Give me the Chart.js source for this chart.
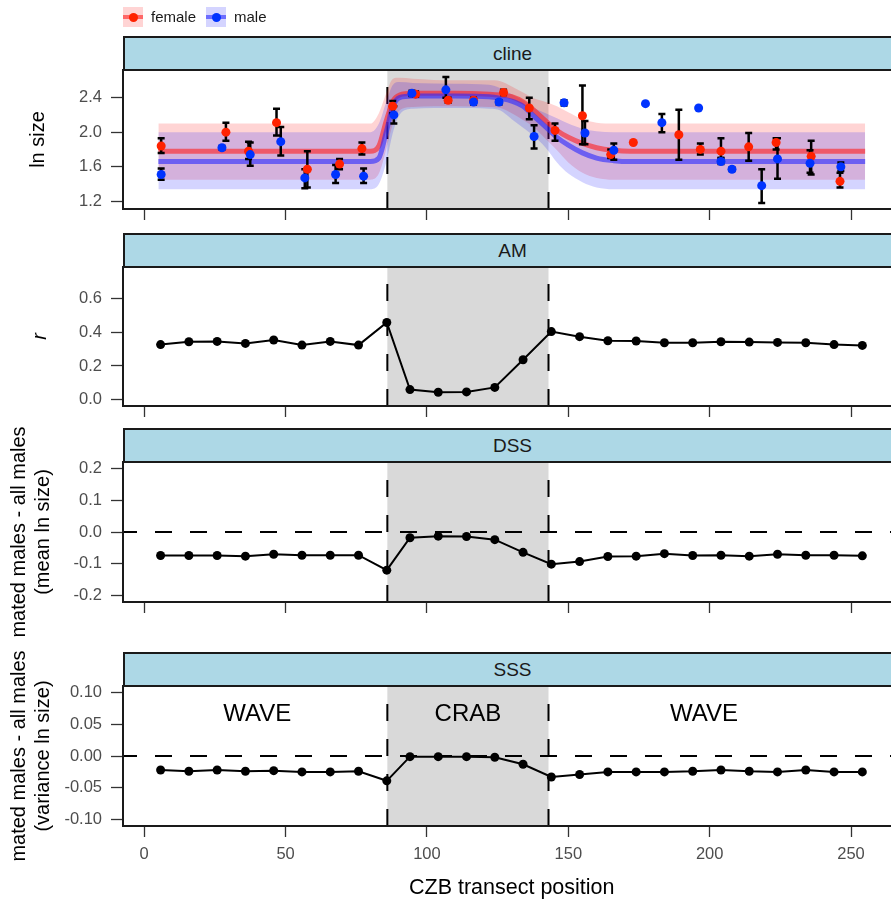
<!DOCTYPE html>
<html>
<head>
<meta charset="utf-8">
<script src="https://cdn.jsdelivr.net/npm/chart.js@4"></script>
<style>
  html, body { margin: 0; padding: 0; background: #fff; overflow: hidden; width: 891px; height: 902px; }
  canvas { position: absolute; left: 0; }
  .strip { position: absolute; left: 123px; width: 779px; height: 35px; box-sizing: border-box;
           background: #add8e6; border: 2px solid #1a1a1a; color: #1a1a1a;
           font: 19px "Liberation Sans", Arial, sans-serif;
           display: flex; align-items: center; justify-content: center; }
  .key { position: absolute; top: 7px; width: 20px; height: 20px; }
  .key i { position: absolute; left: 0; right: 0; top: 8px; height: 4px; }
  .key b { position: absolute; left: 5.5px; top: 5.5px; width: 9px; height: 9px; border-radius: 50%; }
  .lab { position: absolute; top: 8px; font: 15px "Liberation Sans", Arial, sans-serif; color: #1a1a1a; }
</style>
</head>
<body>
<canvas id="c1"></canvas>
<canvas id="c2"></canvas>
<canvas id="c3"></canvas>
<canvas id="c4"></canvas>

<div class="key" style="left:123px;background:rgba(255,0,0,0.17)"><i style="background:rgba(255,30,30,0.6)"></i><b style="background:#ff2200"></b></div>
<div class="lab" style="left:151px">female</div>
<div class="key" style="left:206px;background:rgba(0,0,255,0.17)"><i style="background:rgba(40,40,255,0.6)"></i><b style="background:#0033ff"></b></div>
<div class="lab" style="left:234px">male</div>

<script>
// ---- data ----
const xTicks = [0, 50, 100, 150, 200, 250];
const crabZone = [86, 143];
const zoneNames = ['WAVE', 'CRAB', 'WAVE'];
const zoneNameX = [40, 114.5, 198];
const zoneNameY = 0.066;

// cline panel: snail size per sex
const femaleX  = [6.0, 28.9, 36.9, 46.8, 57.7, 69.1, 77.0, 87.9, 96.0, 107.5, 116.5, 127.1, 136.2, 145.3, 155.0, 165.0, 173.0, 189.1, 196.7, 204.0, 213.8, 223.5, 235.9, 246.1];
const femaleY  = [1.84, 2.00, 1.78, 2.11, 1.57, 1.63, 1.81, 2.30, 2.44, 2.37, 2.37, 2.46, 2.28, 2.02, 2.19, 1.74, 1.88, 1.97, 1.80, 1.78, 1.83, 1.88, 1.72, 1.43];
const femaleLo = [1.76, 1.90, 1.69, 1.96, 1.36, 1.57, 1.74, 2.22, 2.41, 2.34, 2.34, 2.43, 2.15, 1.90, 1.86, 1.70, null, 1.68, 1.74, 1.70, 1.67, 1.80, 1.51, 1.36];
const femaleHi = [1.93, 2.11, 1.89, 2.27, 1.78, 1.69, 1.88, 2.36, 2.47, 2.40, 2.40, 2.49, 2.40, 2.10, 2.54, 1.80, null, 2.26, 1.87, 1.93, 1.99, 1.93, 1.90, 1.53];

const maleX  = [6.0, 27.5, 37.5, 48.3, 56.8, 67.7, 77.6, 88.3, 94.7, 106.7, 116.5, 125.5, 137.9, 148.5, 155.9, 166.1, 177.3, 183.1, 196.1, 204.0, 207.9, 218.4, 224.0, 235.5, 246.4];
const maleY  = [1.51, 1.82, 1.74, 1.89, 1.47, 1.51, 1.49, 2.20, 2.45, 2.49, 2.35, 2.35, 1.95, 2.34, 1.99, 1.79, 2.33, 2.11, 2.28, 1.66, 1.57, 1.38, 1.69, 1.64, 1.60];
const maleLo = [1.45, 1.80, 1.61, 1.73, 1.35, 1.41, 1.41, 2.10, 2.42, 2.40, 2.32, 2.32, 1.81, 2.31, 1.86, 1.68, null, 2.00, null, 1.63, 1.55, 1.18, 1.46, 1.53, 1.55];
const maleHi = [1.58, 1.84, 1.88, 2.06, 1.57, 1.62, 1.58, 2.30, 2.48, 2.64, 2.38, 2.37, 2.08, 2.37, 2.13, 1.87, null, 2.21, null, 1.70, 1.59, 1.57, 1.93, 1.79, 1.65];

// fitted clines
const clineX      = [5, 80, 83, 85.6, 88, 90.3, 95, 110, 122, 126, 130, 134, 138, 142, 146, 150, 155, 160, 166, 172, 255];
const femaleFit   = [1.78, 1.78, 1.84, 2.13, 2.36, 2.43, 2.45, 2.45, 2.44, 2.43, 2.41, 2.35, 2.25, 2.13, 2.02, 1.94, 1.87, 1.82, 1.79, 1.78, 1.78];
const femaleUpper = [2.10, 2.10, 2.22, 2.45, 2.62, 2.63, 2.62, 2.60, 2.60, 2.59, 2.53, 2.46, 2.39, 2.35, 2.30, 2.23, 2.15, 2.11, 2.10, 2.10, 2.10];
const femaleLower = [1.45, 1.45, 1.52, 1.80, 2.10, 2.25, 2.29, 2.30, 2.29, 2.28, 2.22, 2.14, 2.05, 1.92, 1.79, 1.65, 1.53, 1.47, 1.45, 1.45, 1.45];
const maleFit     = [1.66, 1.66, 1.70, 2.00, 2.30, 2.40, 2.42, 2.42, 2.41, 2.39, 2.36, 2.30, 2.18, 2.06, 1.94, 1.85, 1.76, 1.70, 1.67, 1.66, 1.66];
const maleUpper   = [2.00, 2.00, 2.10, 2.35, 2.55, 2.58, 2.57, 2.56, 2.55, 2.51, 2.44, 2.37, 2.28, 2.22, 2.16, 2.10, 2.04, 2.01, 2.00, 2.00, 2.00];
const maleLower   = [1.34, 1.34, 1.40, 1.65, 2.00, 2.20, 2.27, 2.28, 2.27, 2.25, 2.15, 2.05, 1.95, 1.82, 1.65, 1.52, 1.42, 1.36, 1.34, 1.34, 1.34];

// AM / DSS / SSS series
const sitePos = [5.8, 15.8, 25.8, 35.8, 45.8, 55.8, 65.8, 75.8, 85.8, 94, 104, 114, 124, 134, 144, 154, 164, 174, 184, 194, 204, 214, 224, 234, 244, 254];
const amR     = [0.327, 0.344, 0.346, 0.334, 0.354, 0.324, 0.346, 0.324, 0.458, 0.060, 0.044, 0.046, 0.073, 0.237, 0.404, 0.374, 0.350, 0.348, 0.338, 0.338, 0.344, 0.342, 0.340, 0.338, 0.327, 0.322];
const dssMean = [-0.074, -0.074, -0.074, -0.076, -0.070, -0.073, -0.073, -0.073, -0.120, -0.018, -0.013, -0.014, -0.024, -0.064, -0.101, -0.093, -0.077, -0.076, -0.068, -0.074, -0.073, -0.076, -0.070, -0.073, -0.073, -0.075];
const sssVar  = [-0.022, -0.024, -0.022, -0.024, -0.023, -0.025, -0.025, -0.024, -0.039, -0.001, -0.001, -0.001, -0.002, -0.013, -0.033, -0.029, -0.025, -0.025, -0.025, -0.024, -0.022, -0.024, -0.025, -0.022, -0.025, -0.025];

// ---- drawing ----
const FONT = '"Liberation Sans", Arial, sans-serif';
const PAD = 60;
const pts = (xs, ys) => xs.map((v, i) => ({x: v, y: ys[i]}));

function dashLine(ctx, x1, y1, x2, y2, offset) {
    ctx.setLineDash([17, 18]);
    ctx.lineDashOffset = offset || 0;
    ctx.beginPath();
    ctx.moveTo(x1, y1);
    ctx.lineTo(x2, y2);
    ctx.stroke();
}

function drawBars(ctx, x, y, xs, lo, hi) {
    xs.forEach((v, i) => {
        if (lo[i] == null) return;
        const px = x.getPixelForValue(v);
        const p1 = y.getPixelForValue(lo[i]);
        const p2 = y.getPixelForValue(hi[i]);
        ctx.beginPath();
        ctx.moveTo(px, p1); ctx.lineTo(px, p2);
        ctx.moveTo(px - 3.5, p1); ctx.lineTo(px + 3.5, p1);
        ctx.moveTo(px - 3.5, p2); ctx.lineTo(px + 3.5, p2);
        ctx.stroke();
    });
}

const decor = {
    id: 'decor',
    beforeDatasetsDraw(chart, args, opts) {
        const {ctx, chartArea: a, scales: {x, y}} = chart;
        const x0 = x.getPixelForValue(crabZone[0]);
        const x1 = x.getPixelForValue(crabZone[1]);
        ctx.save();
        ctx.fillStyle = '#d9d9d9';
        ctx.fillRect(x0, a.top, x1 - x0, a.bottom - a.top);
        ctx.strokeStyle = '#000';
        ctx.lineWidth = 2;
        if (opts.zeroLine) {
            const y0 = y.getPixelForValue(0);
            dashLine(ctx, a.left, y0, a.right, y0, 3);
        }
        crabZone.forEach(v => {
            const px = x.getPixelForValue(v);
            dashLine(ctx, px, a.bottom, px, a.top, 0);
        });
        if (opts.zoneLabels) {
            ctx.setLineDash([]);
            ctx.fillStyle = '#000';
            ctx.font = '24px ' + FONT;
            ctx.textAlign = 'center';
            ctx.textBaseline = 'middle';
            zoneNames.forEach((t, i) => {
                ctx.fillText(t, x.getPixelForValue(zoneNameX[i]), y.getPixelForValue(zoneNameY));
            });
        }
        ctx.restore();
    },
    beforeDatasetDraw(chart, args, opts) {
        if (!opts.errorBars || chart.data.datasets[args.index].label !== 'female') return;
        const {ctx, scales: {x, y}} = chart;
        ctx.save();
        ctx.strokeStyle = '#000';
        ctx.lineWidth = 2.5;
        drawBars(ctx, x, y, femaleX, femaleLo, femaleHi);
        drawBars(ctx, x, y, maleX, maleLo, maleHi);
        ctx.restore();
    },
    afterDraw(chart) {
        const {ctx, chartArea: a} = chart;
        ctx.save();
        ctx.strokeStyle = '#1a1a1a';
        ctx.lineWidth = 2;
        ctx.strokeRect(a.left, a.top, a.right - a.left, a.bottom - a.top);
        ctx.restore();
    }
};

function series(ys) {
    return [{
        label: 'series',
        data: pts(sitePos, ys),
        borderColor: '#000',
        borderWidth: 2,
        pointRadius: 4.5,
        pointBackgroundColor: '#000',
        pointBorderWidth: 0,
        tension: 0
    }];
}

function band(label, ys, fill, color, order) {
    return {
        label: label, data: pts(clineX, ys), borderWidth: 0, pointRadius: 0,
        fill: fill, backgroundColor: color, cubicInterpolationMode: 'monotone', order: order
    };
}

const clineSets = [
    band('female upper', femaleUpper, '+1', 'rgba(255,0,0,0.17)', 10),
    band('female lower', femaleLower, false, 'rgba(0,0,0,0)', 10),
    band('male upper', maleUpper, '+1', 'rgba(0,0,255,0.17)', 9),
    band('male lower', maleLower, false, 'rgba(0,0,0,0)', 9),
    {label: 'female fit', data: pts(clineX, femaleFit), borderColor: 'rgba(255,30,30,0.6)', borderWidth: 5,
     pointRadius: 0, cubicInterpolationMode: 'monotone', order: 8},
    {label: 'male fit', data: pts(clineX, maleFit), borderColor: 'rgba(40,40,255,0.6)', borderWidth: 5,
     pointRadius: 0, cubicInterpolationMode: 'monotone', order: 7},
    {label: 'female', data: pts(femaleX, femaleY), showLine: false, pointRadius: 4.5,
     pointBackgroundColor: '#ff2200', pointBorderWidth: 0, order: 2},
    {label: 'male', data: pts(maleX, maleY), showLine: false, pointRadius: 4.5,
     pointBackgroundColor: '#0033ff', pointBorderWidth: 0, order: 1}
];

const panels = [
    {id: 'c1', strip: 'cline', top: 70, bottom: 209.5, ymin: 1.11, ymax: 2.72, yTicks: [1.2, 1.6, 2.0, 2.4], dec: 1,
     title: 'ln size', titlePad: 26, sets: clineSets, decor: {errorBars: true}},
    {id: 'c2', strip: 'AM', top: 267, bottom: 406, ymin: -0.0375, ymax: 0.7875, yTicks: [0, 0.2, 0.4, 0.6], dec: 1,
     title: 'r', italic: true, titlePad: 28, sets: series(amR), decor: {}},
    {id: 'c3', strip: 'DSS', top: 462, bottom: 602, ymin: -0.22, ymax: 0.22, yTicks: [-0.2, -0.1, 0, 0.1, 0.2], dec: 1,
     title: ['mated males - all males', '(mean ln size)'], titlePad: 7, sets: series(dssMean), decor: {zeroLine: true}},
    {id: 'c4', strip: 'SSS', top: 686, bottom: 826, ymin: -0.11, ymax: 0.11, yTicks: [-0.1, -0.05, 0, 0.05, 0.1], dec: 2,
     title: ['mated males - all males', '(variance ln size)'], titlePad: 7, sets: series(sssVar), decor: {zeroLine: true, zoneLabels: true},
     showX: true}
];

panels.forEach(p => {
    const axisH = p.showX ? 76 : 16;
    const padBottom = p.showX ? 0 : 40;
    const el = document.getElementById(p.id);
    el.width = 905;
    el.height = PAD + (p.bottom - p.top) + axisH + padBottom;
    el.style.top = (p.top - PAD) + 'px';

    const strip = document.createElement('div');
    strip.className = 'strip';
    strip.style.top = (p.top - 34) + 'px';
    strip.textContent = p.strip;
    document.body.appendChild(strip);

    new Chart(el, {
        type: 'line',
        data: {datasets: p.sets},
        options: {
            responsive: false,
            animation: false,
            devicePixelRatio: 1,
            layout: {padding: {top: PAD, right: 3, bottom: padBottom, left: 0}},
            plugins: {legend: {display: false}, tooltip: {enabled: false}, decor: p.decor},
            scales: {
                x: {
                    type: 'linear', min: -7.5, max: 267.5,
                    afterFit: s => { s.height = axisH; },
                    afterBuildTicks: s => { s.ticks = xTicks.map(v => ({value: v})); },
                    grid: {drawOnChartArea: false, drawTicks: true, tickLength: 11, tickColor: '#333', tickWidth: 1.3},
                    border: {display: false},
                    ticks: {display: !!p.showX, padding: 8, maxRotation: 0, color: '#4d4d4d', font: {family: FONT, size: 16.5}},
                    title: {display: !!p.showX, text: 'CZB transect position', color: '#000',
                            font: {family: FONT, size: 21.5}, padding: {top: 0, bottom: 1}}
                },
                y: {
                    type: 'linear', min: p.ymin, max: p.ymax,
                    afterFit: s => { s.width = 123; },
                    afterBuildTicks: s => { s.ticks = p.yTicks.map(v => ({value: v})); },
                    grid: {drawOnChartArea: false, drawTicks: true, tickLength: 12, tickColor: '#333', tickWidth: 1.3},
                    border: {display: false},
                    ticks: {padding: 9, color: '#4d4d4d', font: {family: FONT, size: 16.5},
                            callback: v => Number(v).toFixed(p.dec)},
                    title: {display: true, text: p.title, color: '#000',
                            font: {family: FONT, size: 20, style: p.italic ? 'italic' : 'normal'},
                            padding: {top: p.titlePad, bottom: 0}}
                }
            }
        },
        plugins: [decor]
    });
});
</script>
</body>
</html>
